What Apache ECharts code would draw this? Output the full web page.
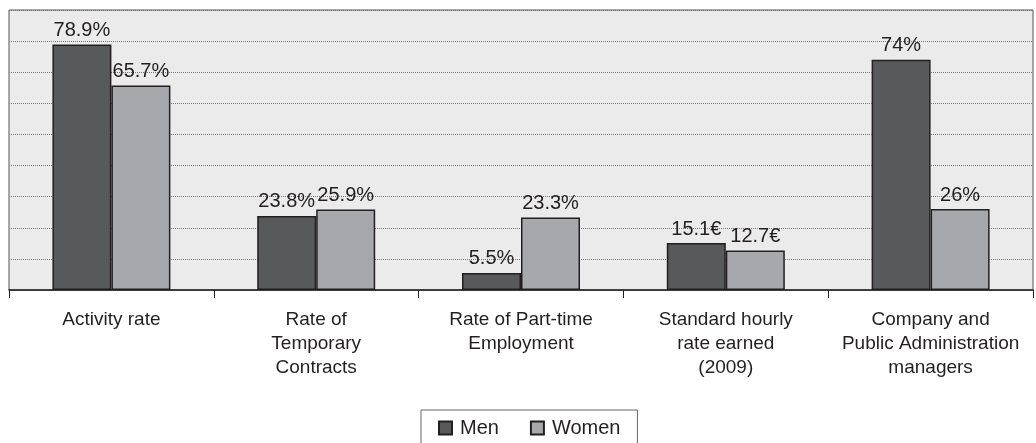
<!DOCTYPE html>
<html>
<head>
<meta charset="utf-8">
<script src="https://cdn.jsdelivr.net/npm/echarts@6/dist/echarts.min.js"></script>
<style>
  html, body { margin: 0; padding: 0; background: #fff; }
  #chart { width: 1036px; height: 443px; }
</style>
</head>
<body>
<div id="chart"></div>
<script>
//data
let categories = [
    "Activity rate",
    "Rate of\nTemporary\nContracts",
    "Rate of Part-time\nEmployment",
    "Standard hourly\nrate earned\n(2009)",
    "Company and\nPublic Administration\nmanagers"
];
let units = ["%", "%", "%", "€", "%"];
let men = [78.9, 23.8, 5.5, 15.1, 74];
let women = [65.7, 25.9, 23.3, 12.7, 26];

let font = "'Liberation Sans', Arial, Helvetica, sans-serif";

//Get UI
let chart = echarts.init(document.getElementById('chart'));

function valueLabel() {
    return {
        show: true,
        position: 'top',
        distance: 4,
        color: '#231f20',
        fontSize: 20,
        fontFamily: font,
        formatter: function (p) { return p.value + units[p.dataIndex]; }
    };
}

let option = {
    animation: false,
    backgroundColor: '#ffffff',
    grid: {
        left: 9,
        right: 3,
        top: 10,
        bottom: 153,
        show: true,
        backgroundColor: '#ebebeb',
        borderColor: '#555',
        borderWidth: 1
    },
    legend: {
        data: ['Men', 'Women'],
        left: 421,
        top: 410,
        padding: [8, 17, 9, 17],
        borderColor: '#666',
        borderWidth: 1,
        itemWidth: 13,
        itemHeight: 13,
        itemGap: 31,
        selectedMode: false,
        icon: 'rect',
        textStyle: { fontSize: 20, color: '#231f20', fontFamily: font, padding: [0, 0, 0, 3] }
    },
    xAxis: {
        type: 'category',
        data: categories,
        axisLine: { lineStyle: { color: '#231f20', width: 1.5 } },
        axisTick: { show: true, length: 8, lineStyle: { color: '#231f20' } },
        axisLabel: {
            interval: 0,
            margin: 18,
            fontSize: 19,
            lineHeight: 24,
            color: '#231f20',
            fontFamily: font,
            align: 'center'
        }
    },
    yAxis: {
        type: 'value',
        min: 0,
        max: 90,
        interval: 10,
        axisLabel: { show: false },
        axisLine: { show: false },
        axisTick: { show: false },
        splitLine: { lineStyle: { type: 'dotted', color: '#777', width: 1 } }
    },
    series: [
        {
            name: 'Men',
            type: 'bar',
            data: men,
            barWidth: 59,
            barGap: '0%',
            itemStyle: { color: '#58595b', borderColor: '#231f20', borderWidth: 1.5 },
            label: valueLabel()
        },
        {
            name: 'Women',
            type: 'bar',
            data: women,
            barWidth: 59,
            barGap: '0%',
            itemStyle: { color: '#a7a8ab', borderColor: '#231f20', borderWidth: 1.5 },
            label: valueLabel()
        }
    ]
};

chart.setOption(option);
</script>
</body>
</html>
